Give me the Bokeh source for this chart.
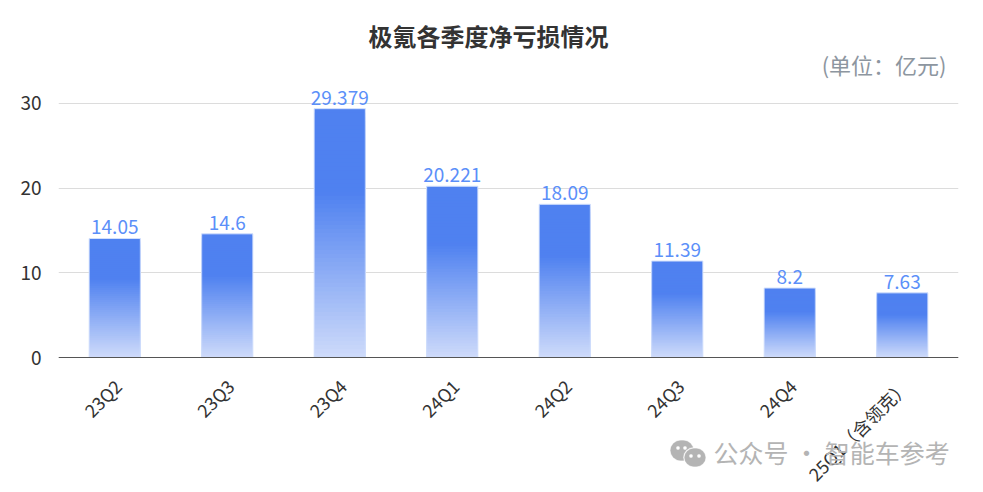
import math
from bokeh.plotting import figure
from bokeh.models import ColumnDataSource, FactorRange, Range1d, Label, BoxAnnotation
from bokeh.core.properties import value
from bokeh.embed import file_html
from bokeh.resources import INLINE

title_text = "极氪各季度净亏损情况"
unit_text = "(单位：亿元)"
watermark_text = "公众号 · 智能车参考"
quarters = ["23Q2", "23Q3", "23Q4", "24Q1", "24Q2", "24Q3", "24Q4", "25Q1（含领克）"]
net_loss = [14.05, 14.6, 29.379, 20.221, 18.09, 11.39, 8.2, 7.63]
y_ticks = [0, 10, 20, 30]

FONT = "Noto Sans CJK SC"
TOP = (79, 129, 240)
BOT = (208, 220, 250)

# the frame fills the page height so that title, axis labels and watermark all lie inside it
FH = 490
X0, Y0 = 58, 357
PX_PER_UNIT = 8.47
p = figure(x_range=FactorRange(*quarters, range_padding=0),
           y_range=Range1d(-(FH - Y0) / PX_PER_UNIT, Y0 / PX_PER_UNIT),
           frame_width=900, frame_height=FH,
           min_border_left=X0, min_border_right=5, min_border_top=0, min_border_bottom=0,
           output_backend="svg", toolbar_location=None, background_fill_color="white")
p.outline_line_color = None

# gradient: painter's stack, each strip reaching from the baseline up to a fraction of the value
N = 60
for i in range(N, 0, -1):
    f = i / N
    t = max(0.0, (0.67 - f) / 0.67)
    col = "#%02x%02x%02x" % tuple(round(a + (b - a) * t) for a, b in zip(TOP, BOT))
    src = ColumnDataSource(dict(x=quarters, top=[v * f for v in net_loss]))
    p.vbar(x="x", top="top", bottom=0, width=0.455, source=src, fill_color=col, line_color=None)

outline = ColumnDataSource(dict(x=quarters, top=net_loss, label=[str(v) for v in net_loss], base=[0] * len(quarters)))
p.vbar(x="x", top="top", bottom=0, width=0.455, source=outline, fill_color=None,
       line_color="#d3e0fc", line_width=1)
p.text(x="x", y="top", text="label", source=outline, text_align="center", text_baseline="bottom",
       text_color="#5b8ff9", text_font=value(FONT), text_font_size="19px", y_offset=-4)

p.yaxis.ticker = y_ticks
p.yaxis.axis_line_color = None
p.yaxis.major_tick_line_color = None
p.yaxis.minor_tick_line_color = None
p.yaxis.major_label_text_font = FONT
p.yaxis.major_label_text_font_size = "19px"
p.yaxis.major_label_text_color = "#333333"
p.yaxis.major_label_standoff = 11

p.xaxis.fixed_location = 0
p.xaxis.axis_line_color = "#555555"
p.xaxis.axis_line_width = 1
p.xaxis.major_tick_line_color = None
p.xaxis.minor_tick_line_color = None
p.xaxis.major_label_text_color = None
p.xaxis.major_label_text_font_size = "1px"
p.text(x="x", y="base", text="x", source=outline, angle=math.pi / 4, text_align="right", text_baseline="middle",
       text_color="#333333", text_font=value(FONT), text_font_size="18px", x_offset=3, y_offset=25)

p.xgrid.grid_line_color = None
p.ygrid.grid_line_color = "#dcdcdc"
p.ygrid.grid_line_width = 1
p.ygrid.ticker = y_ticks

def lab(x, y, text, **kw):
    p.add_layout(Label(x=x - X0, y=FH - y, x_units="screen", y_units="screen", text=text, text_font=FONT, **kw))

lab(488, 35, title_text, text_font_size="24px", text_font_style="bold", text_color="#333333",
    text_align="center", text_baseline="middle")
lab(946, 63, unit_text, text_font_size="22px", text_color="#8d96a0",
    text_align="right", text_baseline="middle")
lab(713, 451, watermark_text, text_font_size="25px", text_color="#b4b4b4",
    text_align="left", text_baseline="middle")

def dot(l, t, w, h, c):
    p.add_layout(BoxAnnotation(left=l - X0, right=l + w - X0, top=FH - t, bottom=FH - t - h, left_units="screen",
                 right_units="screen", top_units="screen", bottom_units="screen",
                 fill_color=c, fill_alpha=1, line_color=c, border_radius=min(w, h) // 2, level="overlay"))
dot(670, 440, 23, 20, "#b4b4b4")
dot(683, 447, 23, 20, "white")
dot(684, 448, 21, 18, "#b4b4b4")
dot(676, 446, 3, 3, "white")
dot(683, 446, 3, 3, "white")
dot(689, 454, 3, 3, "white")
dot(697, 454, 3, 3, "white")

open("out.html", "w").write(file_html(p, INLINE))
